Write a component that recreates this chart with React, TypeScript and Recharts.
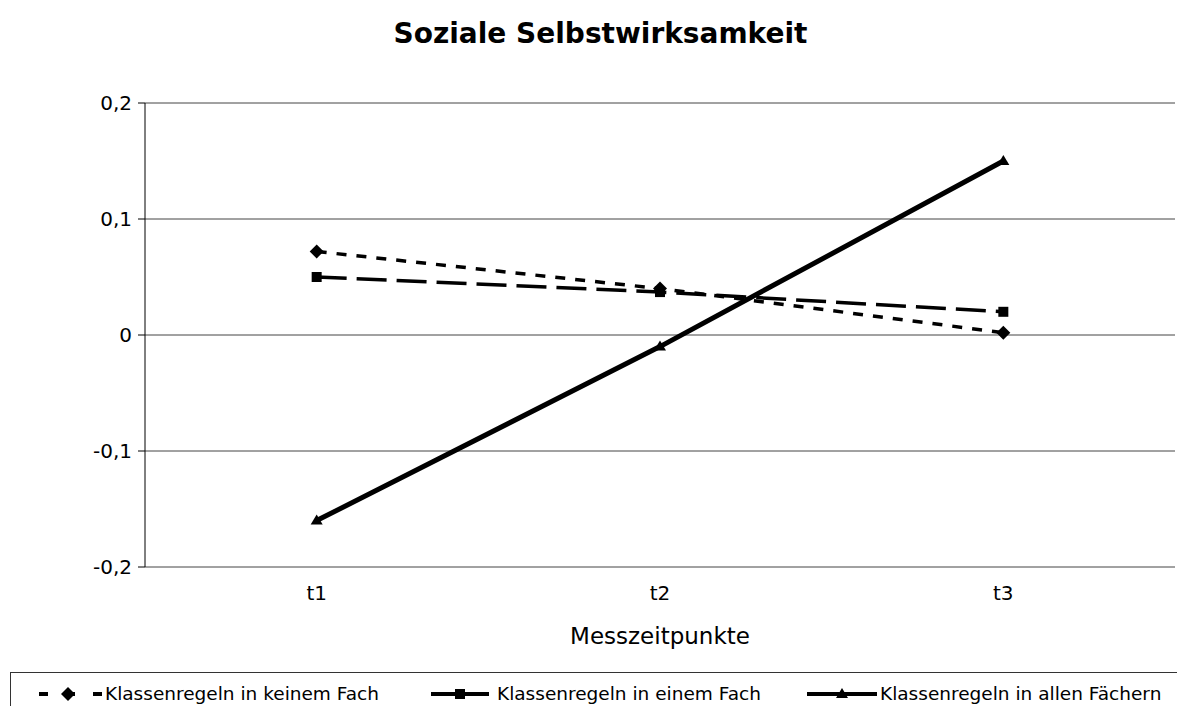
import { LineChart, Line, XAxis, YAxis, CartesianGrid } from 'recharts';

const zeitpunkte = ['t1', 't2', 't3'];
const keinemFach = [0.072, 0.04, 0.002];
const einemFach = [0.05, 0.037, 0.02];
const allenFaechern = [-0.16, -0.01, 0.15];
const yTicks = [-0.2, -0.1, 0, 0.1, 0.2];

const data = zeitpunkte.map((t, i) => ({
  t,
  keinem: keinemFach[i],
  einem: einemFach[i],
  allen: allenFaechern[i],
}));

const FONT = '"DejaVu Sans", Tahoma, Verdana, sans-serif';

const Diamond = (props: any) => {
  const { cx, cy } = props;
  if (cx == null || cy == null) return null;
  return <path d={`M${cx},${cy - 7}L${cx + 7},${cy}L${cx},${cy + 7}L${cx - 7},${cy}Z`} fill="#000" />;
};
const Square = (props: any) => {
  const { cx, cy } = props;
  if (cx == null || cy == null) return null;
  return <rect x={cx - 5} y={cy - 5} width={10} height={10} fill="#000" />;
};
const Triangle = (props: any) => {
  const { cx, cy } = props;
  if (cx == null || cy == null) return null;
  return <path d={`M${cx},${cy - 6}L${cx + 6},${cy + 4}L${cx - 6},${cy + 4}Z`} fill="#000" />;
};

const legendItems = [
  { label: 'Klassenregeln in keinem Fach', dash: '9 18', width: 4, marker: 'diamond', left: 23, w: 68 },
  { label: 'Klassenregeln in einem Fach', dash: '24 10', width: 4, marker: 'square', left: 415, w: 68 },
  { label: 'Klassenregeln in allen Fächern', dash: undefined, width: 4, marker: 'triangle', left: 796, w: 70 },
];

function LegendBox() {
  return (
    <div style={{ position: 'absolute', left: 2, top: 664, width: 1200, height: 60, borderTop: '1px solid #333', borderLeft: '1px solid #333', fontFamily: FONT, fontSize: 18.5 }}>
      {legendItems.map((it) => (
        <div key={it.label} style={{ position: 'absolute', left: it.left, top: 10, display: 'flex', alignItems: 'center' }}>
          <svg width={it.w} height={20}>
            <line x1={0} y1={10} x2={it.w} y2={10} stroke="#000" strokeWidth={it.width} strokeDasharray={it.dash} strokeDashoffset={-5} />
            {it.marker === 'diamond' && <Diamond cx={it.w / 2} cy={10} />}
            {it.marker === 'square' && <Square cx={it.w / 2} cy={10} />}
            {it.marker === 'triangle' && <Triangle cx={it.w / 2} cy={10} />}
          </svg>
          <span style={{ marginLeft: 3 }}>{it.label}</span>
        </div>
      ))}
    </div>
  );
}

export default function App() {
  return (
    <div style={{ position: 'relative', width: 1177, height: 698, overflow: 'hidden', fontFamily: FONT }}>
      <div style={{ position: 'absolute', left: 0, top: 9, width: 1185, textAlign: 'center', fontWeight: 'bold', fontSize: 28, color: '#000' }}>
        Soziale Selbstwirksamkeit
      </div>
      <LineChart width={1177} height={698} data={data} margin={{ top: 95, right: 10, left: 0, bottom: 99 }}>
        <CartesianGrid vertical={false} stroke="#444" strokeWidth={1} />
        <XAxis
          dataKey="t"
          scale="band"
          axisLine={false}
          tickLine={false}
          tickSize={0}
          tickMargin={19}
          height={40}
          tick={{ fill: '#000', fontSize: 20, fontFamily: FONT }}
          label={{ value: 'Messzeitpunkte', position: 'bottom', offset: 21, fill: '#000', fontSize: 23, fontFamily: FONT }}
        />
        <YAxis
          width={137}
          domain={[-0.2, 0.2]}
          ticks={yTicks}
          interval={0}
          tickSize={7}
          tickMargin={6}
          axisLine={{ stroke: '#000' }}
          tickLine={{ stroke: '#000' }}
          tickFormatter={(v: number) => String(v).replace('.', ',')}
          tick={{ fill: '#000', fontSize: 20, fontFamily: FONT }}
        />
        <Line dataKey="keinem" stroke="#000" strokeWidth={3.5} strokeDasharray="10 10" dot={<Diamond />} isAnimationActive={false} />
        <Line dataKey="einem" stroke="#000" strokeWidth={3.5} strokeDasharray="30 10" dot={<Square />} isAnimationActive={false} />
        <Line dataKey="allen" stroke="#000" strokeWidth={5} dot={<Triangle />} isAnimationActive={false} />
      </LineChart>
      <LegendBox />
    </div>
  );
}
